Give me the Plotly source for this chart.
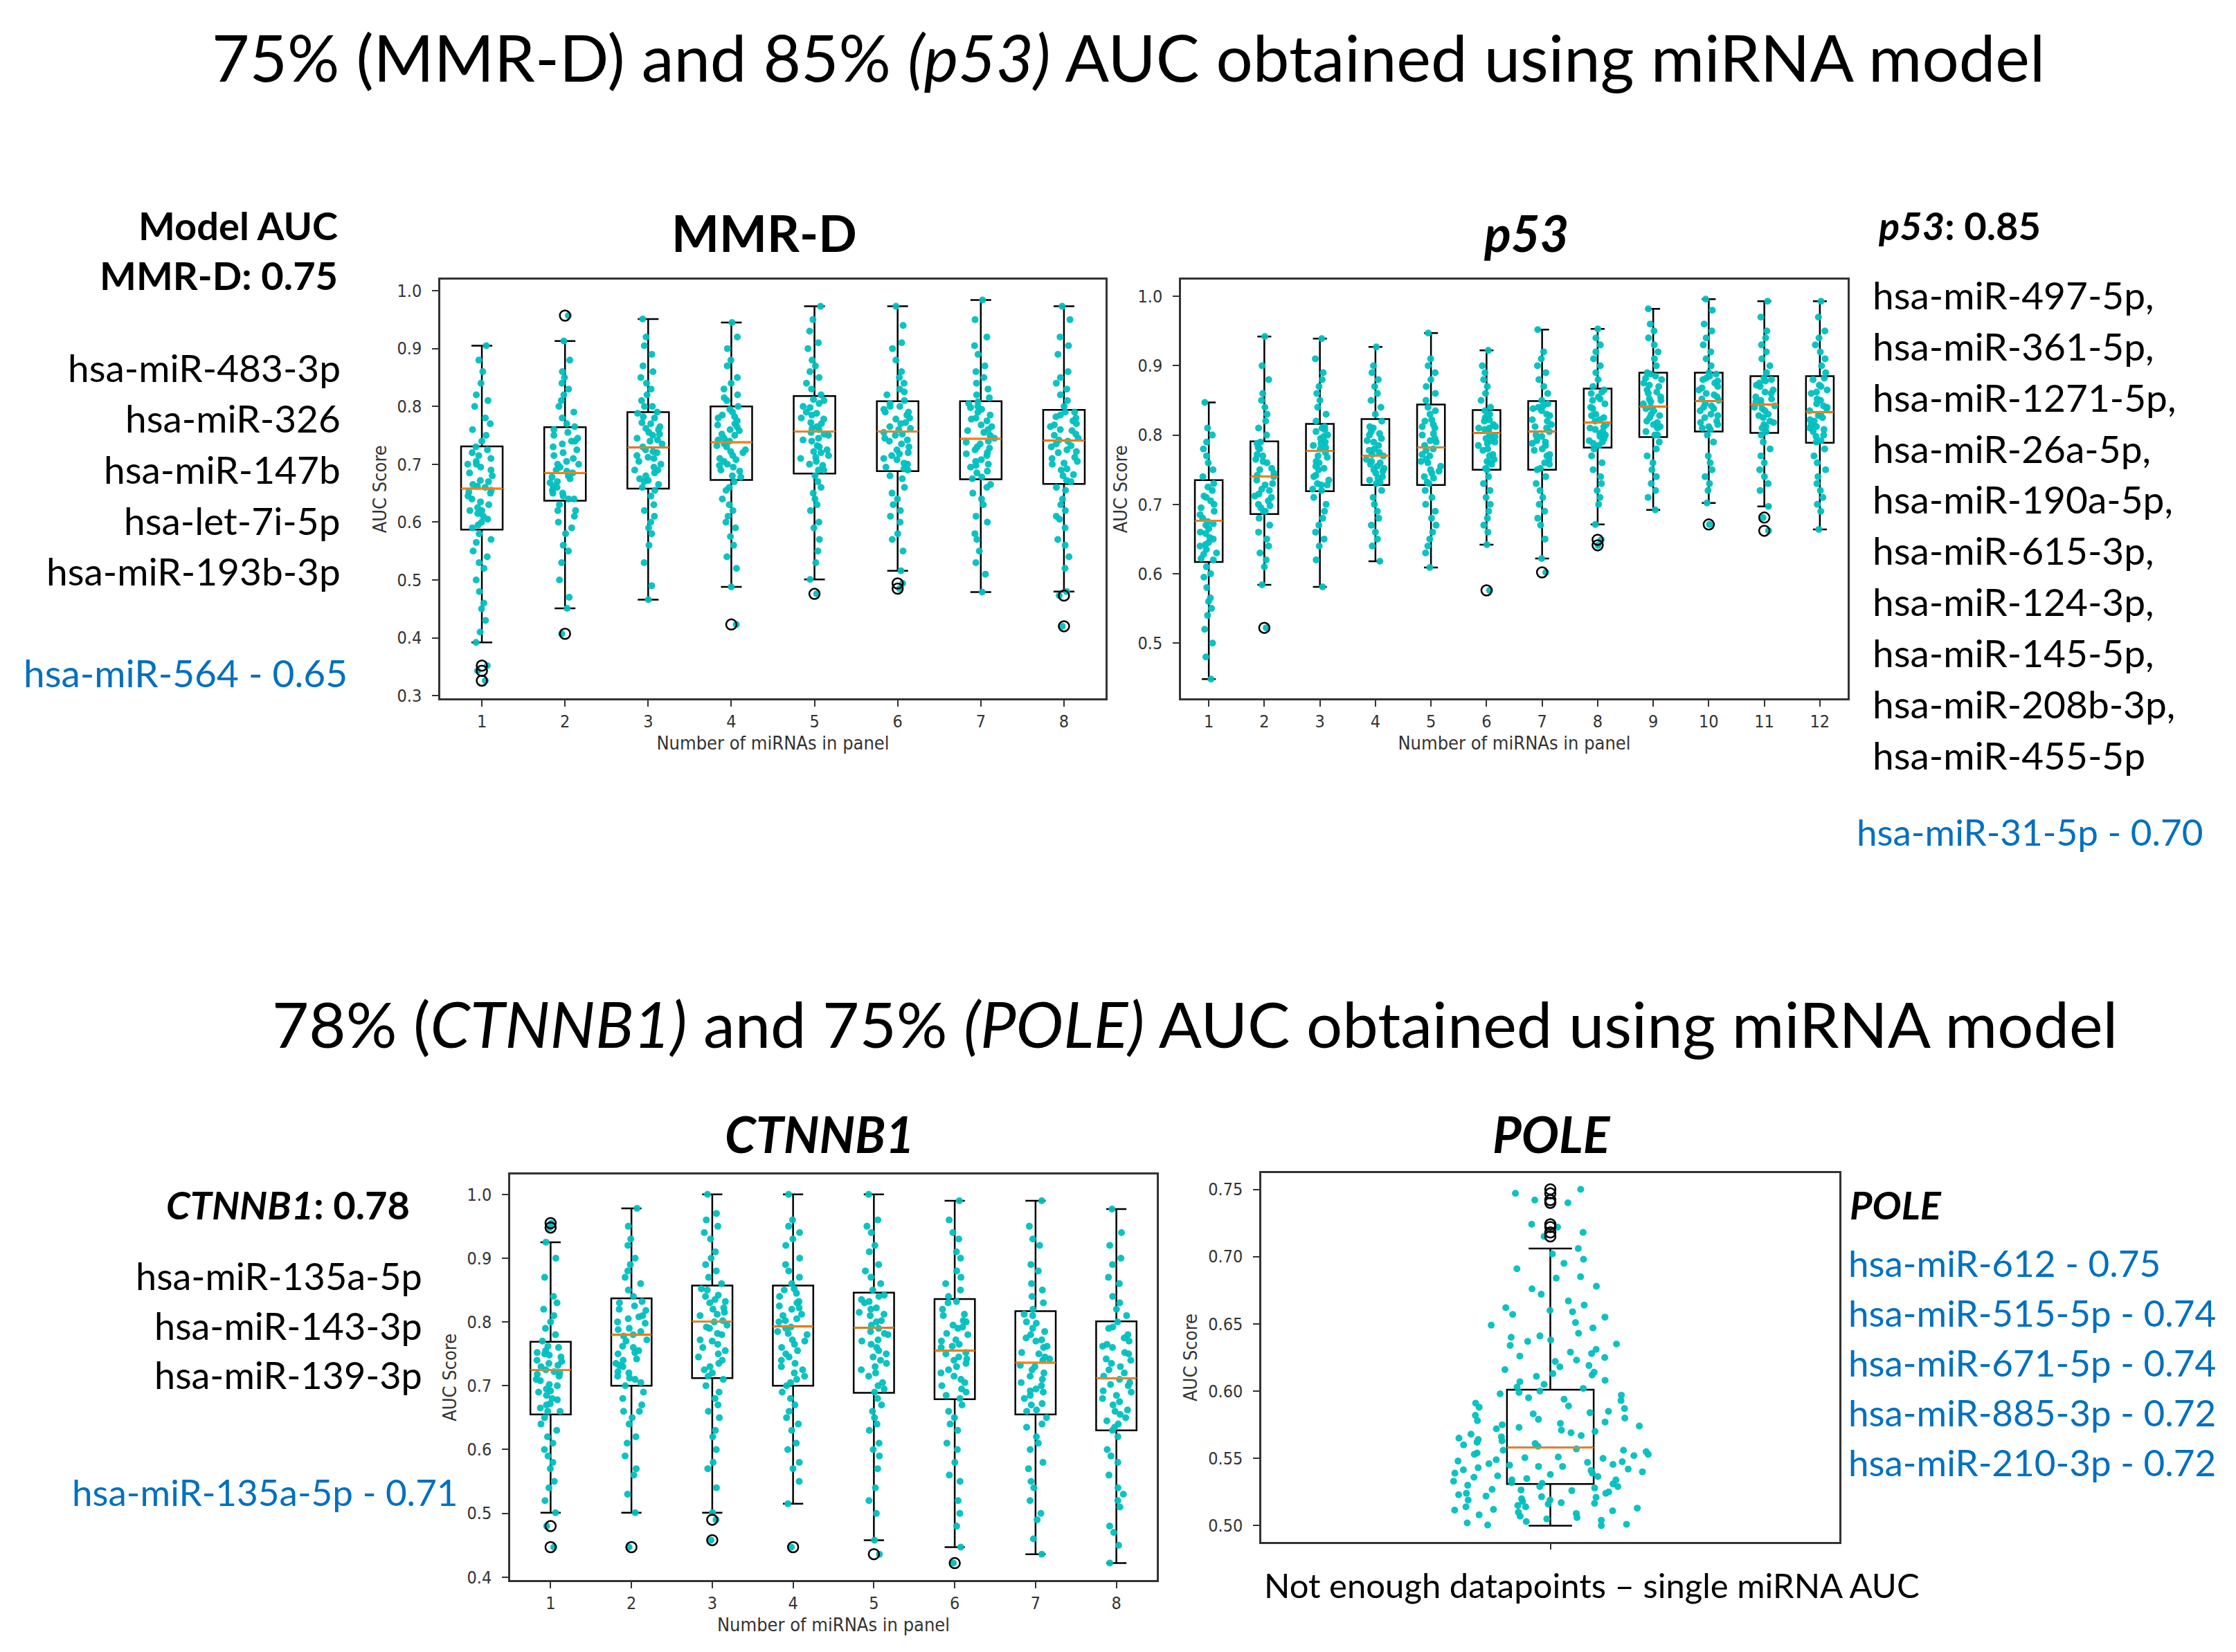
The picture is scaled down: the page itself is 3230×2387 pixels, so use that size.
import plotly.graph_objects as go

W, H = 3230, 2387

# ---------------- MMR-D panel (8 panel sizes) ----------------
mmr_pos = [1, 2, 3, 4, 5, 6, 7, 8]
mmr_lo = [0.392, 0.451, 0.466, 0.488, 0.501, 0.516, 0.479, 0.480]
mmr_q1 = [0.587, 0.637, 0.658, 0.673, 0.684, 0.688, 0.674, 0.666]
mmr_med = [0.658, 0.685, 0.729, 0.738, 0.757, 0.757, 0.744, 0.741]
mmr_q3 = [0.731, 0.764, 0.790, 0.800, 0.818, 0.809, 0.809, 0.794]
mmr_hi = [0.905, 0.913, 0.951, 0.945, 0.973, 0.973, 0.984, 0.973]
mmr_out_x = [1, 1, 1, 2, 2, 4, 5, 6, 6, 8, 8]
mmr_out_y = [0.352, 0.343, 0.326, 0.957, 0.407, 0.423, 0.476, 0.494, 0.485, 0.473, 0.420]
mmr_points = [
    [0.326, 0.343, 0.352, 0.392, 0.41, 0.43, 0.46, 0.48, 0.50, 0.52, 0.54, 0.55, 0.57, 0.58, 0.59, 0.60, 0.61,
     0.62, 0.63, 0.64, 0.65, 0.655, 0.66, 0.67, 0.68, 0.69, 0.70, 0.71, 0.72, 0.73, 0.74, 0.76, 0.78, 0.80,
     0.82, 0.84, 0.86, 0.88, 0.905, 0.62, 0.665, 0.70, 0.595, 0.605, 0.615, 0.625, 0.635, 0.645, 0.652, 0.662,
     0.672, 0.685, 0.695, 0.705, 0.715, 0.725, 0.565, 0.53, 0.75, 0.77, 0.81, 0.45],
    [0.407, 0.451, 0.47, 0.50, 0.53, 0.56, 0.58, 0.60, 0.62, 0.63, 0.64, 0.645, 0.65, 0.66, 0.67, 0.675, 0.68,
     0.685, 0.69, 0.70, 0.71, 0.72, 0.73, 0.74, 0.75, 0.76, 0.77, 0.78, 0.80, 0.82, 0.84, 0.86, 0.88, 0.913,
     0.957, 0.65, 0.70, 0.74, 0.61, 0.79, 0.64, 0.655, 0.662, 0.668, 0.678, 0.688, 0.695, 0.705, 0.715, 0.725,
     0.735, 0.745, 0.755, 0.765, 0.59, 0.55, 0.81, 0.83, 0.85, 0.62],
    [0.466, 0.49, 0.53, 0.56, 0.59, 0.61, 0.63, 0.645, 0.655, 0.66, 0.67, 0.68, 0.69, 0.70, 0.71, 0.72, 0.725,
     0.73, 0.74, 0.75, 0.755, 0.76, 0.77, 0.78, 0.79, 0.80, 0.81, 0.83, 0.85, 0.87, 0.89, 0.92, 0.951, 0.60,
     0.69, 0.745, 0.765, 0.715, 0.82, 0.675, 0.665, 0.672, 0.685, 0.695, 0.705, 0.712, 0.722, 0.735, 0.742,
     0.752, 0.762, 0.772, 0.782, 0.788, 0.62, 0.58, 0.80, 0.84, 0.86, 0.905],
    [0.423, 0.488, 0.52, 0.56, 0.59, 0.62, 0.64, 0.66, 0.67, 0.68, 0.69, 0.70, 0.71, 0.72, 0.73, 0.735, 0.74,
     0.75, 0.76, 0.77, 0.78, 0.79, 0.80, 0.81, 0.83, 0.85, 0.87, 0.90, 0.92, 0.945, 0.60, 0.655, 0.705, 0.745,
     0.765, 0.785, 0.725, 0.82, 0.695, 0.575, 0.678, 0.688, 0.698, 0.708, 0.715, 0.722, 0.732, 0.742, 0.752,
     0.758, 0.768, 0.775, 0.782, 0.795, 0.63, 0.61, 0.815, 0.84, 0.88, 0.54],
    [0.476, 0.501, 0.53, 0.57, 0.60, 0.63, 0.65, 0.67, 0.68, 0.69, 0.70, 0.71, 0.72, 0.73, 0.74, 0.75, 0.755,
     0.76, 0.77, 0.78, 0.79, 0.80, 0.81, 0.82, 0.84, 0.86, 0.88, 0.90, 0.93, 0.95, 0.973, 0.62, 0.715, 0.745,
     0.765, 0.785, 0.805, 0.66, 0.83, 0.725, 0.69, 0.698, 0.705, 0.712, 0.722, 0.732, 0.742, 0.752, 0.762,
     0.772, 0.778, 0.788, 0.798, 0.812, 0.64, 0.59, 0.85, 0.87, 0.91, 0.55],
    [0.485, 0.494, 0.516, 0.55, 0.58, 0.61, 0.64, 0.66, 0.68, 0.69, 0.70, 0.71, 0.72, 0.73, 0.74, 0.75, 0.755,
     0.76, 0.77, 0.78, 0.79, 0.80, 0.81, 0.82, 0.84, 0.86, 0.88, 0.91, 0.94, 0.973, 0.63, 0.675, 0.715, 0.745,
     0.765, 0.785, 0.80, 0.695, 0.83, 0.60, 0.692, 0.702, 0.708, 0.718, 0.725, 0.735, 0.742, 0.752, 0.762,
     0.772, 0.778, 0.79, 0.795, 0.805, 0.65, 0.57, 0.825, 0.85, 0.90, 0.62],
    [0.479, 0.51, 0.55, 0.58, 0.61, 0.63, 0.65, 0.665, 0.675, 0.685, 0.695, 0.705, 0.715, 0.725, 0.735, 0.74,
     0.745, 0.755, 0.765, 0.775, 0.785, 0.795, 0.805, 0.815, 0.83, 0.85, 0.87, 0.89, 0.92, 0.95, 0.984, 0.60,
     0.70, 0.73, 0.76, 0.78, 0.80, 0.66, 0.84, 0.72, 0.678, 0.688, 0.698, 0.708, 0.718, 0.728, 0.738, 0.75,
     0.758, 0.768, 0.778, 0.79, 0.798, 0.808, 0.64, 0.57, 0.82, 0.86, 0.905, 0.53],
    [0.420, 0.473, 0.480, 0.52, 0.56, 0.59, 0.62, 0.64, 0.66, 0.67, 0.68, 0.69, 0.70, 0.71, 0.72, 0.73, 0.74,
     0.745, 0.75, 0.76, 0.77, 0.78, 0.79, 0.80, 0.82, 0.84, 0.86, 0.89, 0.92, 0.95, 0.973, 0.605, 0.655, 0.705,
     0.725, 0.765, 0.785, 0.735, 0.81, 0.57, 0.672, 0.682, 0.692, 0.702, 0.712, 0.722, 0.732, 0.742, 0.752,
     0.758, 0.768, 0.775, 0.782, 0.79, 0.63, 0.54, 0.83, 0.85, 0.905, 0.61],
]

# ---------------- p53 panel (12 panel sizes) ----------------
p53_pos = [1, 2, 3, 4, 5, 6, 7, 8, 9, 10, 11, 12]
p53_lo = [0.448, 0.584, 0.581, 0.618, 0.609, 0.642, 0.622, 0.671, 0.692, 0.702, 0.697, 0.664]
p53_q1 = [0.617, 0.686, 0.719, 0.728, 0.728, 0.750, 0.750, 0.782, 0.797, 0.805, 0.803, 0.789]
p53_med = [0.676, 0.740, 0.777, 0.770, 0.782, 0.803, 0.805, 0.818, 0.841, 0.849, 0.844, 0.833]
p53_q3 = [0.735, 0.791, 0.816, 0.823, 0.844, 0.836, 0.849, 0.867, 0.890, 0.890, 0.885, 0.885]
p53_hi = [0.847, 0.942, 0.939, 0.927, 0.947, 0.922, 0.952, 0.953, 0.982, 0.996, 0.993, 0.993]
p53_out_x = [2, 6, 7, 8, 8, 10, 11, 11]
p53_out_y = [0.522, 0.576, 0.602, 0.649, 0.641, 0.671, 0.681, 0.662]
p53_points = [
    [0.448, 0.48, 0.50, 0.52, 0.55, 0.56, 0.58, 0.60, 0.61, 0.62, 0.63, 0.64, 0.65, 0.66, 0.67, 0.675, 0.68,
     0.69, 0.70, 0.71, 0.72, 0.73, 0.74, 0.75, 0.76, 0.78, 0.80, 0.81, 0.847, 0.645, 0.705, 0.565, 0.622,
     0.628, 0.635, 0.642, 0.652, 0.658, 0.665, 0.672, 0.685, 0.695, 0.712, 0.725, 0.595, 0.54, 0.77, 0.79],
    [0.522, 0.584, 0.61, 0.63, 0.65, 0.67, 0.68, 0.69, 0.70, 0.71, 0.72, 0.73, 0.735, 0.74, 0.75, 0.76, 0.77,
     0.78, 0.79, 0.80, 0.82, 0.84, 0.86, 0.88, 0.90, 0.942, 0.715, 0.745, 0.765, 0.695, 0.83, 0.66, 0.69,
     0.698, 0.705, 0.712, 0.722, 0.728, 0.742, 0.752, 0.762, 0.772, 0.782, 0.788, 0.64, 0.62, 0.81, 0.85],
    [0.581, 0.62, 0.65, 0.67, 0.69, 0.70, 0.71, 0.72, 0.73, 0.74, 0.75, 0.76, 0.77, 0.775, 0.78, 0.79, 0.80,
     0.81, 0.82, 0.83, 0.85, 0.87, 0.89, 0.91, 0.939, 0.755, 0.785, 0.805, 0.735, 0.68, 0.84, 0.795, 0.722,
     0.728, 0.742, 0.752, 0.762, 0.768, 0.782, 0.788, 0.798, 0.808, 0.812, 0.728, 0.66, 0.64, 0.86, 0.88],
    [0.618, 0.64, 0.66, 0.68, 0.70, 0.71, 0.72, 0.73, 0.74, 0.75, 0.76, 0.765, 0.77, 0.78, 0.79, 0.80, 0.81,
     0.82, 0.83, 0.84, 0.86, 0.88, 0.90, 0.927, 0.745, 0.755, 0.775, 0.795, 0.805, 0.69, 0.85, 0.735, 0.732,
     0.738, 0.748, 0.752, 0.758, 0.762, 0.772, 0.778, 0.785, 0.792, 0.802, 0.812, 0.67, 0.65, 0.87, 0.89],
    [0.609, 0.63, 0.65, 0.67, 0.69, 0.70, 0.71, 0.72, 0.73, 0.74, 0.75, 0.76, 0.77, 0.78, 0.785, 0.79, 0.80,
     0.81, 0.82, 0.83, 0.84, 0.85, 0.87, 0.89, 0.91, 0.947, 0.745, 0.765, 0.795, 0.815, 0.68, 0.86, 0.732,
     0.738, 0.748, 0.755, 0.762, 0.772, 0.778, 0.792, 0.802, 0.812, 0.822, 0.835, 0.66, 0.64, 0.88, 0.90],
    [0.576, 0.642, 0.67, 0.69, 0.71, 0.72, 0.73, 0.74, 0.75, 0.76, 0.77, 0.78, 0.79, 0.795, 0.80, 0.805, 0.81,
     0.815, 0.82, 0.83, 0.835, 0.84, 0.86, 0.88, 0.90, 0.922, 0.765, 0.785, 0.81, 0.825, 0.70, 0.85, 0.752,
     0.758, 0.762, 0.772, 0.778, 0.788, 0.792, 0.798, 0.808, 0.812, 0.822, 0.828, 0.68, 0.66, 0.87, 0.89],
    [0.602, 0.622, 0.65, 0.68, 0.70, 0.72, 0.73, 0.74, 0.75, 0.76, 0.77, 0.78, 0.79, 0.80, 0.805, 0.81, 0.82,
     0.83, 0.84, 0.845, 0.85, 0.86, 0.88, 0.90, 0.92, 0.952, 0.765, 0.785, 0.815, 0.835, 0.71, 0.87, 0.752,
     0.758, 0.772, 0.778, 0.788, 0.792, 0.798, 0.812, 0.822, 0.828, 0.838, 0.842, 0.69, 0.67, 0.89, 0.91],
    [0.641, 0.649, 0.671, 0.70, 0.72, 0.74, 0.76, 0.77, 0.78, 0.79, 0.80, 0.81, 0.815, 0.82, 0.83, 0.84, 0.85,
     0.86, 0.865, 0.87, 0.88, 0.90, 0.92, 0.94, 0.953, 0.795, 0.805, 0.825, 0.845, 0.855, 0.75, 0.89, 0.785,
     0.788, 0.792, 0.798, 0.802, 0.808, 0.812, 0.822, 0.828, 0.838, 0.852, 0.862, 0.73, 0.71, 0.91, 0.93],
    [0.692, 0.71, 0.73, 0.75, 0.77, 0.78, 0.79, 0.80, 0.81, 0.82, 0.83, 0.84, 0.845, 0.85, 0.86, 0.87, 0.88,
     0.89, 0.90, 0.91, 0.93, 0.95, 0.982, 0.815, 0.835, 0.855, 0.875, 0.825, 0.865, 0.76, 0.92, 0.885, 0.80,
     0.805, 0.812, 0.818, 0.828, 0.838, 0.848, 0.852, 0.862, 0.872, 0.882, 0.888, 0.74, 0.72, 0.94, 0.96],
    [0.671, 0.702, 0.73, 0.75, 0.77, 0.79, 0.80, 0.81, 0.82, 0.83, 0.84, 0.845, 0.85, 0.86, 0.87, 0.88, 0.89,
     0.90, 0.92, 0.94, 0.96, 0.996, 0.815, 0.835, 0.855, 0.865, 0.875, 0.825, 0.885, 0.76, 0.91, 0.98, 0.808,
     0.812, 0.818, 0.828, 0.838, 0.842, 0.852, 0.858, 0.868, 0.878, 0.882, 0.888, 0.74, 0.72, 0.93, 0.95],
    [0.662, 0.681, 0.697, 0.72, 0.74, 0.76, 0.78, 0.79, 0.80, 0.81, 0.82, 0.83, 0.84, 0.845, 0.85, 0.86, 0.87,
     0.88, 0.89, 0.91, 0.93, 0.95, 0.97, 0.993, 0.815, 0.835, 0.855, 0.865, 0.875, 0.825, 0.75, 0.90, 0.805,
     0.812, 0.818, 0.828, 0.838, 0.842, 0.848, 0.852, 0.862, 0.872, 0.878, 0.882, 0.73, 0.77, 0.92, 0.94],
    [0.664, 0.69, 0.71, 0.73, 0.75, 0.76, 0.77, 0.78, 0.79, 0.80, 0.81, 0.82, 0.83, 0.835, 0.84, 0.85, 0.86,
     0.87, 0.88, 0.89, 0.91, 0.93, 0.95, 0.97, 0.993, 0.805, 0.825, 0.845, 0.865, 0.815, 0.74, 0.90, 0.792,
     0.798, 0.808, 0.812, 0.822, 0.828, 0.838, 0.842, 0.852, 0.862, 0.872, 0.882, 0.72, 0.70, 0.92, 0.94],
]

# ---------------- CTNNB1 panel (8 panel sizes) ----------------
ctn_pos = [1, 2, 3, 4, 5, 6, 7, 8]
ctn_lo = [0.501, 0.501, 0.501, 0.515, 0.458, 0.447, 0.436, 0.422]
ctn_q1 = [0.655, 0.700, 0.712, 0.700, 0.689, 0.679, 0.655, 0.630]
ctn_med = [0.725, 0.780, 0.801, 0.793, 0.791, 0.755, 0.736, 0.712]
ctn_q3 = [0.769, 0.837, 0.857, 0.857, 0.846, 0.836, 0.817, 0.801]
ctn_hi = [0.925, 0.978, 1.000, 1.000, 1.000, 0.990, 0.990, 0.977]
ctn_out_x = [1, 1, 1, 1, 2, 3, 3, 4, 5, 6]
ctn_out_y = [0.955, 0.948, 0.480, 0.447, 0.447, 0.490, 0.458, 0.447, 0.436, 0.422]
ctn_points = [
    [0.447, 0.480, 0.501, 0.52, 0.55, 0.57, 0.59, 0.61, 0.63, 0.64, 0.65, 0.66, 0.67, 0.68, 0.69, 0.70, 0.71,
     0.715, 0.72, 0.725, 0.73, 0.74, 0.75, 0.76, 0.77, 0.78, 0.80, 0.82, 0.84, 0.87, 0.90, 0.925, 0.948, 0.955,
     0.695, 0.735, 0.745, 0.665, 0.60, 0.755, 0.66, 0.672, 0.678, 0.685, 0.692, 0.702, 0.708, 0.718, 0.722,
     0.732, 0.738, 0.748, 0.752, 0.762, 0.62, 0.58, 0.79, 0.81, 0.83, 0.54],
    [0.447, 0.501, 0.53, 0.56, 0.59, 0.62, 0.64, 0.66, 0.68, 0.69, 0.70, 0.71, 0.72, 0.73, 0.74, 0.75, 0.76,
     0.77, 0.78, 0.79, 0.80, 0.81, 0.82, 0.83, 0.84, 0.86, 0.88, 0.90, 0.93, 0.95, 0.978, 0.65, 0.715, 0.755,
     0.785, 0.805, 0.825, 0.735, 0.87, 0.67, 0.705, 0.712, 0.722, 0.732, 0.742, 0.752, 0.762, 0.772, 0.778,
     0.788, 0.798, 0.808, 0.818, 0.832, 0.66, 0.61, 0.85, 0.89, 0.92, 0.57],
    [0.458, 0.490, 0.501, 0.54, 0.57, 0.60, 0.63, 0.66, 0.68, 0.70, 0.71, 0.72, 0.73, 0.75, 0.76, 0.77, 0.78,
     0.79, 0.80, 0.81, 0.82, 0.83, 0.84, 0.85, 0.86, 0.87, 0.89, 0.91, 0.93, 0.95, 0.97, 1.0, 0.65, 0.74,
     0.795, 0.815, 0.835, 0.765, 0.88, 0.69, 0.715, 0.725, 0.735, 0.745, 0.755, 0.772, 0.782, 0.792, 0.802,
     0.812, 0.822, 0.832, 0.842, 0.852, 0.67, 0.62, 0.90, 0.94, 0.96, 0.58],
    [0.447, 0.515, 0.55, 0.58, 0.61, 0.64, 0.66, 0.68, 0.69, 0.70, 0.71, 0.72, 0.74, 0.75, 0.76, 0.77, 0.78,
     0.79, 0.80, 0.81, 0.82, 0.83, 0.84, 0.85, 0.86, 0.88, 0.90, 0.92, 0.94, 0.96, 1.0, 0.63, 0.73, 0.785,
     0.805, 0.825, 0.845, 0.765, 0.87, 0.67, 0.705, 0.715, 0.725, 0.735, 0.745, 0.755, 0.772, 0.782, 0.792,
     0.802, 0.812, 0.822, 0.832, 0.852, 0.65, 0.60, 0.89, 0.93, 0.95, 0.57],
    [0.436, 0.458, 0.50, 0.54, 0.57, 0.60, 0.63, 0.65, 0.67, 0.68, 0.69, 0.70, 0.72, 0.74, 0.75, 0.76, 0.77,
     0.78, 0.79, 0.80, 0.81, 0.82, 0.83, 0.84, 0.85, 0.87, 0.89, 0.91, 0.94, 0.96, 1.0, 0.61, 0.73, 0.785,
     0.795, 0.815, 0.835, 0.765, 0.86, 0.66, 0.695, 0.705, 0.715, 0.725, 0.735, 0.745, 0.755, 0.772, 0.782,
     0.802, 0.812, 0.822, 0.832, 0.842, 0.64, 0.59, 0.88, 0.92, 0.95, 0.52],
    [0.422, 0.447, 0.48, 0.52, 0.55, 0.58, 0.61, 0.63, 0.65, 0.67, 0.68, 0.69, 0.70, 0.71, 0.72, 0.73, 0.74,
     0.75, 0.76, 0.77, 0.78, 0.79, 0.80, 0.81, 0.82, 0.83, 0.84, 0.86, 0.88, 0.91, 0.94, 0.96, 0.99, 0.60,
     0.715, 0.745, 0.765, 0.795, 0.85, 0.66, 0.685, 0.695, 0.705, 0.725, 0.735, 0.742, 0.752, 0.762, 0.772,
     0.782, 0.792, 0.802, 0.812, 0.832, 0.64, 0.56, 0.87, 0.90, 0.93, 0.50],
    [0.436, 0.46, 0.49, 0.52, 0.55, 0.58, 0.60, 0.62, 0.64, 0.65, 0.66, 0.67, 0.68, 0.69, 0.70, 0.71, 0.72,
     0.73, 0.74, 0.75, 0.76, 0.77, 0.78, 0.79, 0.80, 0.81, 0.82, 0.84, 0.86, 0.89, 0.92, 0.95, 0.99, 0.57,
     0.695, 0.725, 0.745, 0.775, 0.83, 0.635, 0.662, 0.672, 0.685, 0.692, 0.705, 0.715, 0.732, 0.742, 0.752,
     0.762, 0.772, 0.785, 0.798, 0.812, 0.61, 0.54, 0.85, 0.88, 0.93, 0.50],
    [0.422, 0.45, 0.48, 0.51, 0.54, 0.56, 0.58, 0.60, 0.62, 0.63, 0.64, 0.65, 0.66, 0.67, 0.68, 0.69, 0.70,
     0.71, 0.72, 0.73, 0.74, 0.75, 0.76, 0.77, 0.78, 0.79, 0.80, 0.82, 0.84, 0.86, 0.89, 0.92, 0.94, 0.977,
     0.655, 0.705, 0.735, 0.765, 0.81, 0.53, 0.635, 0.645, 0.662, 0.675, 0.685, 0.692, 0.702, 0.715, 0.725,
     0.742, 0.752, 0.762, 0.775, 0.792, 0.59, 0.52, 0.83, 0.87, 0.90, 0.47],
]

# ---------------- POLE panel (single miRNA AUCs) ----------------
pole_pos = [1]
pole_lo = [0.500]
pole_q1 = [0.531]
pole_med = [0.558]
pole_q3 = [0.601]
pole_hi = [0.706]
pole_out_x = [1, 1, 1, 1, 1, 1, 1, 1]
pole_out_y = [0.750, 0.747, 0.742, 0.740, 0.724, 0.722, 0.718, 0.715]
pole_points = [[
    0.500, 0.501, 0.503, 0.504, 0.506, 0.507, 0.509, 0.510, 0.511, 0.513, 0.514, 0.515, 0.516, 0.518, 0.519,
    0.520, 0.521, 0.522, 0.523, 0.524, 0.525, 0.526, 0.527, 0.528, 0.529, 0.530, 0.512, 0.517,
    0.531, 0.532, 0.533, 0.534, 0.535, 0.536, 0.537, 0.538, 0.539, 0.540, 0.541, 0.542, 0.543, 0.544, 0.545,
    0.546, 0.547, 0.548, 0.549, 0.550, 0.551, 0.552, 0.553, 0.554, 0.555, 0.556, 0.557, 0.5455,
    0.559, 0.560, 0.562, 0.563, 0.565, 0.566, 0.568, 0.569, 0.571, 0.572, 0.574, 0.575, 0.577, 0.578, 0.580,
    0.582, 0.583, 0.585, 0.587, 0.589, 0.591, 0.593, 0.595, 0.597, 0.599, 0.600, 0.567, 0.576,
    0.603, 0.605, 0.608, 0.611, 0.613, 0.616, 0.619, 0.622, 0.625, 0.628, 0.631, 0.634, 0.637, 0.640, 0.643,
    0.647, 0.651, 0.655, 0.659, 0.662, 0.667, 0.672, 0.678, 0.684, 0.691, 0.698, 0.706, 0.614, 0.626, 0.638,
    0.715, 0.718, 0.722, 0.724, 0.740, 0.742, 0.747, 0.750,
    0.5005, 0.502, 0.505, 0.508, 0.5115, 0.514, 0.5165, 0.519, 0.5215, 0.524, 0.5265, 0.529, 0.5315, 0.534,
    0.5365, 0.539, 0.5415, 0.544, 0.5475, 0.5505, 0.553, 0.556, 0.561, 0.564, 0.570, 0.573, 0.579, 0.584,
    0.588, 0.594, 0.598, 0.602, 0.607, 0.612, 0.618, 0.623, 0.629, 0.635, 0.641, 0.649, 0.657, 0.664, 0.676,
    0.685, 0.695, 0.702, 0.66,
]]

CYAN = '#00BFBF'
ORANGE = '#FF7F0E'
BLUE = '#0070C0'
TEXT_FONT = 'Lato'
AXIS_FONT = 'DejaVu Sans Condensed, DejaVu Sans'

fig = go.Figure()


def add_panel(xa, ya, pos, lo, q1, med, q3, hi, points, out_x, out_y, box_w, jit_w):
    """Box + jittered points + orange median + hollow outlier circles."""
    clear = 'rgba(0,0,0,0)'
    # the box and whiskers
    fig.add_trace(go.Box(
        x=pos, q1=q1, median=med, q3=q3, lowerfence=lo, upperfence=hi,
        width=box_w, whiskerwidth=0.5, boxpoints=False, fillcolor=clear,
        line=dict(color='black', width=2.5), xaxis=xa, yaxis=ya, hoverinfo='skip'
    ))
    # all the points, jittered by plotly
    xs, ys = [], []
    for p, vals in zip(pos, points):
        xs += [p] * len(vals)
        ys += vals
    fig.add_trace(go.Box(
        x=xs, y=ys, boxpoints='all', jitter=1, pointpos=0, width=jit_w,
        fillcolor=clear, line=dict(color=clear, width=0),
        marker=dict(color=CYAN, size=10, opacity=0.95),
        xaxis=xa, yaxis=ya, hoverinfo='skip'
    ))
    # median line (a flat box at the median)
    fig.add_trace(go.Box(
        x=pos, q1=med, median=med, q3=med, lowerfence=med, upperfence=med,
        width=box_w, whiskerwidth=0, boxpoints=False, fillcolor=clear,
        line=dict(color=ORANGE, width=2.5), xaxis=xa, yaxis=ya, hoverinfo='skip'
    ))
    # fliers
    fig.add_trace(go.Scatter(
        x=out_x, y=out_y, mode='markers',
        marker=dict(symbol='circle-open', size=15, color='black', line=dict(width=2.5)),
        xaxis=xa, yaxis=ya, hoverinfo='skip'
    ))


add_panel('x', 'y', mmr_pos, mmr_lo, mmr_q1, mmr_med, mmr_q3, mmr_hi, mmr_points, mmr_out_x, mmr_out_y, 0.5, 0.38)
add_panel('x2', 'y2', p53_pos, p53_lo, p53_q1, p53_med, p53_q3, p53_hi, p53_points, p53_out_x, p53_out_y, 0.5, 0.38)
add_panel('x3', 'y3', ctn_pos, ctn_lo, ctn_q1, ctn_med, ctn_q3, ctn_hi, ctn_points, ctn_out_x, ctn_out_y, 0.5, 0.40)
add_panel('x4', 'y4', pole_pos, pole_lo, pole_q1, pole_med, pole_q3, pole_hi, pole_points, pole_out_x, pole_out_y, 0.15, 0.34)

tick_font = dict(family=AXIS_FONT, size=25, color='#333')
label_font = dict(family=AXIS_FONT, size=27, color='#333')
frame = dict(showline=True, mirror=True, linecolor='#333', linewidth=2.5, ticks='outside', ticklen=9,
             tickwidth=2, tickcolor='#333', showgrid=False, zeroline=False, tickfont=tick_font)


def xdom(a, b):
    return [a / W, b / W]


def ydom(top, bottom):
    return [1 - bottom / H, 1 - top / H]


xlabel = dict(text='Number of miRNAs in panel', font=label_font, standoff=8)
ylabel = dict(text='AUC Score', font=label_font, standoff=8)

fig.update_layout(
    width=W, height=H, margin=dict(l=0, r=0, t=0, b=0),
    paper_bgcolor='white', plot_bgcolor='white', showlegend=False, boxmode='overlay',
    xaxis=dict(frame, domain=xdom(628, 1589), range=[0.5, 8.5], tickvals=mmr_pos, anchor='y', title=xlabel),
    yaxis=dict(frame, domain=ydom(398, 1006), range=[0.295, 1.019], dtick=0.1, tickformat='.1f', anchor='x',
               title=ylabel, ticklabelstandoff=10),
    xaxis2=dict(frame, domain=xdom(1698, 2661), range=[0.5, 12.5], tickvals=p53_pos, anchor='y2', title=xlabel),
    yaxis2=dict(frame, domain=ydom(398, 1006), range=[0.42, 1.024], dtick=0.1, tickformat='.1f', anchor='x2',
                title=ylabel, ticklabelstandoff=10),
    xaxis3=dict(frame, domain=xdom(729, 1663), range=[0.5, 8.5], tickvals=ctn_pos, anchor='y3', title=xlabel),
    yaxis3=dict(frame, domain=ydom(1697, 2286), range=[0.395, 1.031], dtick=0.1, tickformat='.1f', anchor='x3',
                title=ylabel, ticklabelstandoff=10),
    xaxis4=dict(frame, domain=xdom(1814, 2649), range=[0.5, 1.5], tickvals=[1], ticktext=[''], anchor='y4'),
    yaxis4=dict(frame, domain=ydom(1695, 2230), range=[0.488, 0.762], dtick=0.05, tickformat='.2f', anchor='x4',
                title=ylabel, ticklabelstandoff=10),
)

# ---------------- texts ----------------
notes = []


def note(text, x, y, size, color='black', xanchor='center'):
    # small nudge so the text edge (not the annotation box) sits on x
    if xanchor == 'left':
        x -= 10
    elif xanchor == 'right':
        x += 6
    notes.append(dict(text=text, x=x / W, y=1 - y / H, xref='paper', yref='paper', showarrow=False,
                      xanchor=xanchor, yanchor='middle', font=dict(family=TEXT_FONT, size=size, color=color)))


note('75% (MMR-D) and 85% <i>(p53)</i> AUC obtained using miRNA model', 1622, 74, 94)
note('78% (<i>CTNNB1)</i> and 75% <i>(POLE)</i> AUC obtained using miRNA model', 1718, 1477, 92)

note('<b>MMR-D</b>', 1096, 330, 73)
note('<b><i>p53</i></b>', 2196, 330, 72)
note('<b><i>CTNNB1</i></b>', 1176, 1638, 72)
note('<b><i>POLE</i></b>', 2233, 1638, 72)

# MMR-D side text
note('<b>Model AUC</b>', 476, 319, 56, xanchor='right')
note('<b>MMR-D: 0.75</b>', 476, 391, 56, xanchor='right')
mmr_mirs = ['hsa-miR-483-3p', 'hsa-miR-326', 'hsa-miR-147b', 'hsa-let-7i-5p', 'hsa-miR-193b-3p']
for i, m in enumerate(mmr_mirs):
    note(m, 480, 525 + i * 74, 55, xanchor='right')
note('hsa-miR-564 - 0.65', 490, 968, 55, color=BLUE, xanchor='right')

# p53 side text
note('<b><i>p53</i>: 0.85</b>', 2713, 319, 56, xanchor='left')
p53_mirs = ['hsa-miR-497-5p,', 'hsa-miR-361-5p,', 'hsa-miR-1271-5p,', 'hsa-miR-26a-5p,', 'hsa-miR-190a-5p,',
            'hsa-miR-615-3p,', 'hsa-miR-124-3p,', 'hsa-miR-145-5p,', 'hsa-miR-208b-3p,', 'hsa-miR-455-5p']
for i, m in enumerate(p53_mirs):
    note(m, 2705, 420 + i * 74.2, 55, xanchor='left')
note('hsa-miR-31-5p - 0.70', 2682, 1199, 53, color=BLUE, xanchor='left')

# CTNNB1 side text
note('<b><i>CTNNB1</i>: 0.78</b>', 580, 1741, 56, xanchor='right')
ctn_mirs = ['hsa-miR-135a-5p', 'hsa-miR-143-3p', 'hsa-miR-139-3p']
for i, m in enumerate(ctn_mirs):
    note(m, 598, 1844 + i * 72, 54, xanchor='right')
note('hsa-miR-135a-5p - 0.71', 650, 2157, 53, color=BLUE, xanchor='right')

# POLE side text
note('<b><i>POLE</i></b>', 2672, 1741, 56, xanchor='left')
pole_mirs = ['hsa-miR-612 - 0.75', 'hsa-miR-515-5p - 0.74', 'hsa-miR-671-5p - 0.74', 'hsa-miR-885-3p - 0.72',
             'hsa-miR-210-3p - 0.72']
for i, m in enumerate(pole_mirs):
    note(m, 2670, 1825 + i * 72.2, 53, color=BLUE, xanchor='left')
note('Not enough datapoints \u2013 single miRNA AUC', 2291, 2293, 49)

fig.update_layout(annotations=notes)

fig.write_html("out.html")
